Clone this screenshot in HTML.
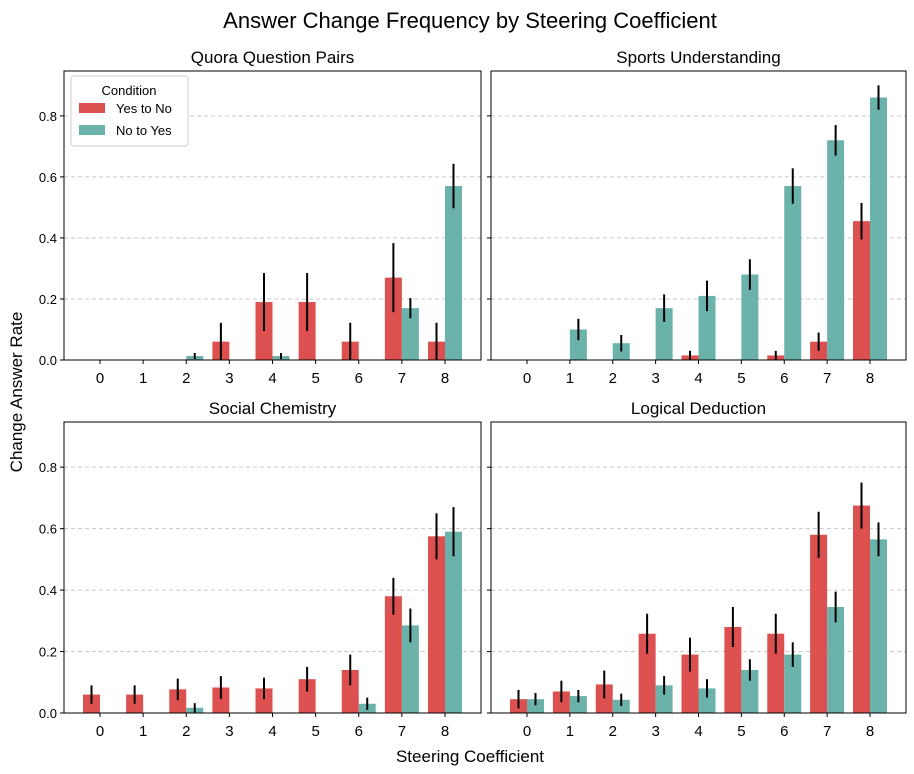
<!DOCTYPE html>
<html><head><meta charset="utf-8"><style>
body{margin:0;background:#fff;}
svg{display:block;font-family:"Liberation Sans","DejaVu Sans",sans-serif;}
</style></head><body>
<svg id="c" width="914" height="774"></svg>
<script>
const categories=[0,1,2,3,4,5,6,7,8];
const titles=["Quora Question Pairs","Sports Understanding","Social Chemistry","Logical Deduction"];
const yesNo=[[0,0,0,0.06,0.19,0.19,0.06,0.27,0.06],[0,0,0,0,0.015,0,0.015,0.06,0.455],[0.06,0.06,0.077,0.083,0.08,0.11,0.14,0.38,0.575],[0.045,0.07,0.093,0.258,0.19,0.28,0.258,0.58,0.675]];
const yesNoErr=[[0,0,0,0.062,0.095,0.095,0.062,0.113,0.062],[0,0,0,0,0.015,0,0.015,0.03,0.06],[0.03,0.03,0.035,0.037,0.035,0.04,0.05,0.06,0.075],[0.03,0.035,0.045,0.065,0.055,0.065,0.065,0.075,0.075]];
const noYes=[[0,0,0.013,0,0.013,0,0,0.17,0.57],[0,0.1,0.055,0.17,0.21,0.28,0.57,0.72,0.86],[0,0,0.017,0,0,0,0.03,0.285,0.59],[0.045,0.055,0.043,0.09,0.08,0.14,0.19,0.345,0.565]];
const noYesErr=[[0,0,0.01,0,0.01,0,0,0.033,0.073],[0,0.035,0.027,0.045,0.05,0.05,0.058,0.05,0.04],[0,0,0.015,0,0,0,0.02,0.055,0.08],[0.02,0.02,0.02,0.03,0.03,0.035,0.04,0.05,0.055]];
const yTicks=[0,0.2,0.4,0.6,0.8];
const yTickLabels=["0.0","0.2","0.4","0.6","0.8"];

const NS="http://www.w3.org/2000/svg";
const svg=document.getElementById('c');
function mk(tag,attrs,parent,text){const e=document.createElementNS(NS,tag);for(const k in attrs)e.setAttribute(k,attrs[k]);if(text!==undefined)e.textContent=text;(parent||svg).appendChild(e);return e;}
const panels=[{x0:64,x1:481,y0:71,y1:360},{x0:491,x1:906,y0:71,y1:360},{x0:64,x1:481,y0:422,y1:713},{x0:491,x1:906,y0:422,y1:713}];
const RED="#dd5050",TEAL="#6bb2ab",BW=17;
panels.forEach((p,i)=>{
  const g=mk('g',{});
  
  
  const ymax=0.947;
  const ys=v=>p.y1-v/ymax*(p.y1-p.y0);
  const step=(p.x1-p.x0-72)/8;
  const xs=c=>p.x0+36+c*step;
  yTicks.forEach((t,k)=>{
    if(t>0){const gl=mk('line',{x1:p.x0,x2:p.x1,y1:ys(t),y2:ys(t),stroke:'#c8c8c8','stroke-dasharray':'4,3','stroke-width':1},g);
      }
    mk('line',{x1:p.x0-4,x2:p.x0,y1:ys(t),y2:ys(t),stroke:'#000'},g);
    if(i%2==0){const tl=mk('text',{x:p.x0-7,y:ys(t)+5,'text-anchor':'end','font-size':13},g,yTickLabels[k]);
      }
  });
  categories.forEach((c,j)=>{
    const cx=xs(c);
    [[yesNo[i][j],yesNoErr[i][j],RED,cx-BW,'bar-yes-to-no'],[noYes[i][j],noYesErr[i][j],TEAL,cx,'bar-no-to-yes']].forEach(([v,e,col,bx,nm])=>{
      if(v>0){const r=mk('rect',{x:bx,y:ys(v),width:BW,height:ys(0)-ys(v),fill:col},g);
        }
      if(e>0){const el=mk('line',{x1:bx+BW/2,x2:bx+BW/2,y1:ys(v+e),y2:ys(Math.max(0,v-e)),stroke:'#000','stroke-width':2},g);
        }
    });
    mk('line',{x1:cx,x2:cx,y1:p.y1,y2:p.y1+4,stroke:'#000'},g);
    const xl=mk('text',{x:cx,y:p.y1+23,'text-anchor':'middle','font-size':15},g,String(c));
    
  });
  const fr=mk('rect',{x:p.x0,y:p.y0,width:p.x1-p.x0,height:p.y1-p.y0,fill:'none',stroke:'#000','stroke-width':1},g);
  
  const t=mk('text',{x:(p.x0+p.x1)/2,y:p.y0-8,'text-anchor':'middle','font-size':17},g,titles[i]);
  
});
</script>
<svg style="position:absolute;left:0;top:0" width="914" height="774">
<text x="470" y="28" text-anchor="middle" font-size="22" font-family="Liberation Sans,sans-serif">Answer Change Frequency by Steering Coefficient</text>
<text x="470" y="762" text-anchor="middle" font-size="17" font-family="Liberation Sans,sans-serif">Steering Coefficient</text>
<text transform="translate(22,392) rotate(-90)" text-anchor="middle" font-size="17" font-family="Liberation Sans,sans-serif">Change Answer Rate</text>
<g font-family="Liberation Sans,sans-serif">
<rect x="71" y="76" width="117" height="70" rx="3" fill="#fff" stroke="#ccc"/>
<text x="129" y="95" text-anchor="middle" font-size="13">Condition</text>
<rect x="79" y="103" width="26" height="10" fill="#dd5050"/>
<text x="116" y="113" font-size="13">Yes to No</text>
<rect x="79" y="125" width="26" height="10" fill="#6bb2ab"/>
<text x="116" y="135" font-size="13">No to Yes</text>
</g>
</svg>
</body></html>
